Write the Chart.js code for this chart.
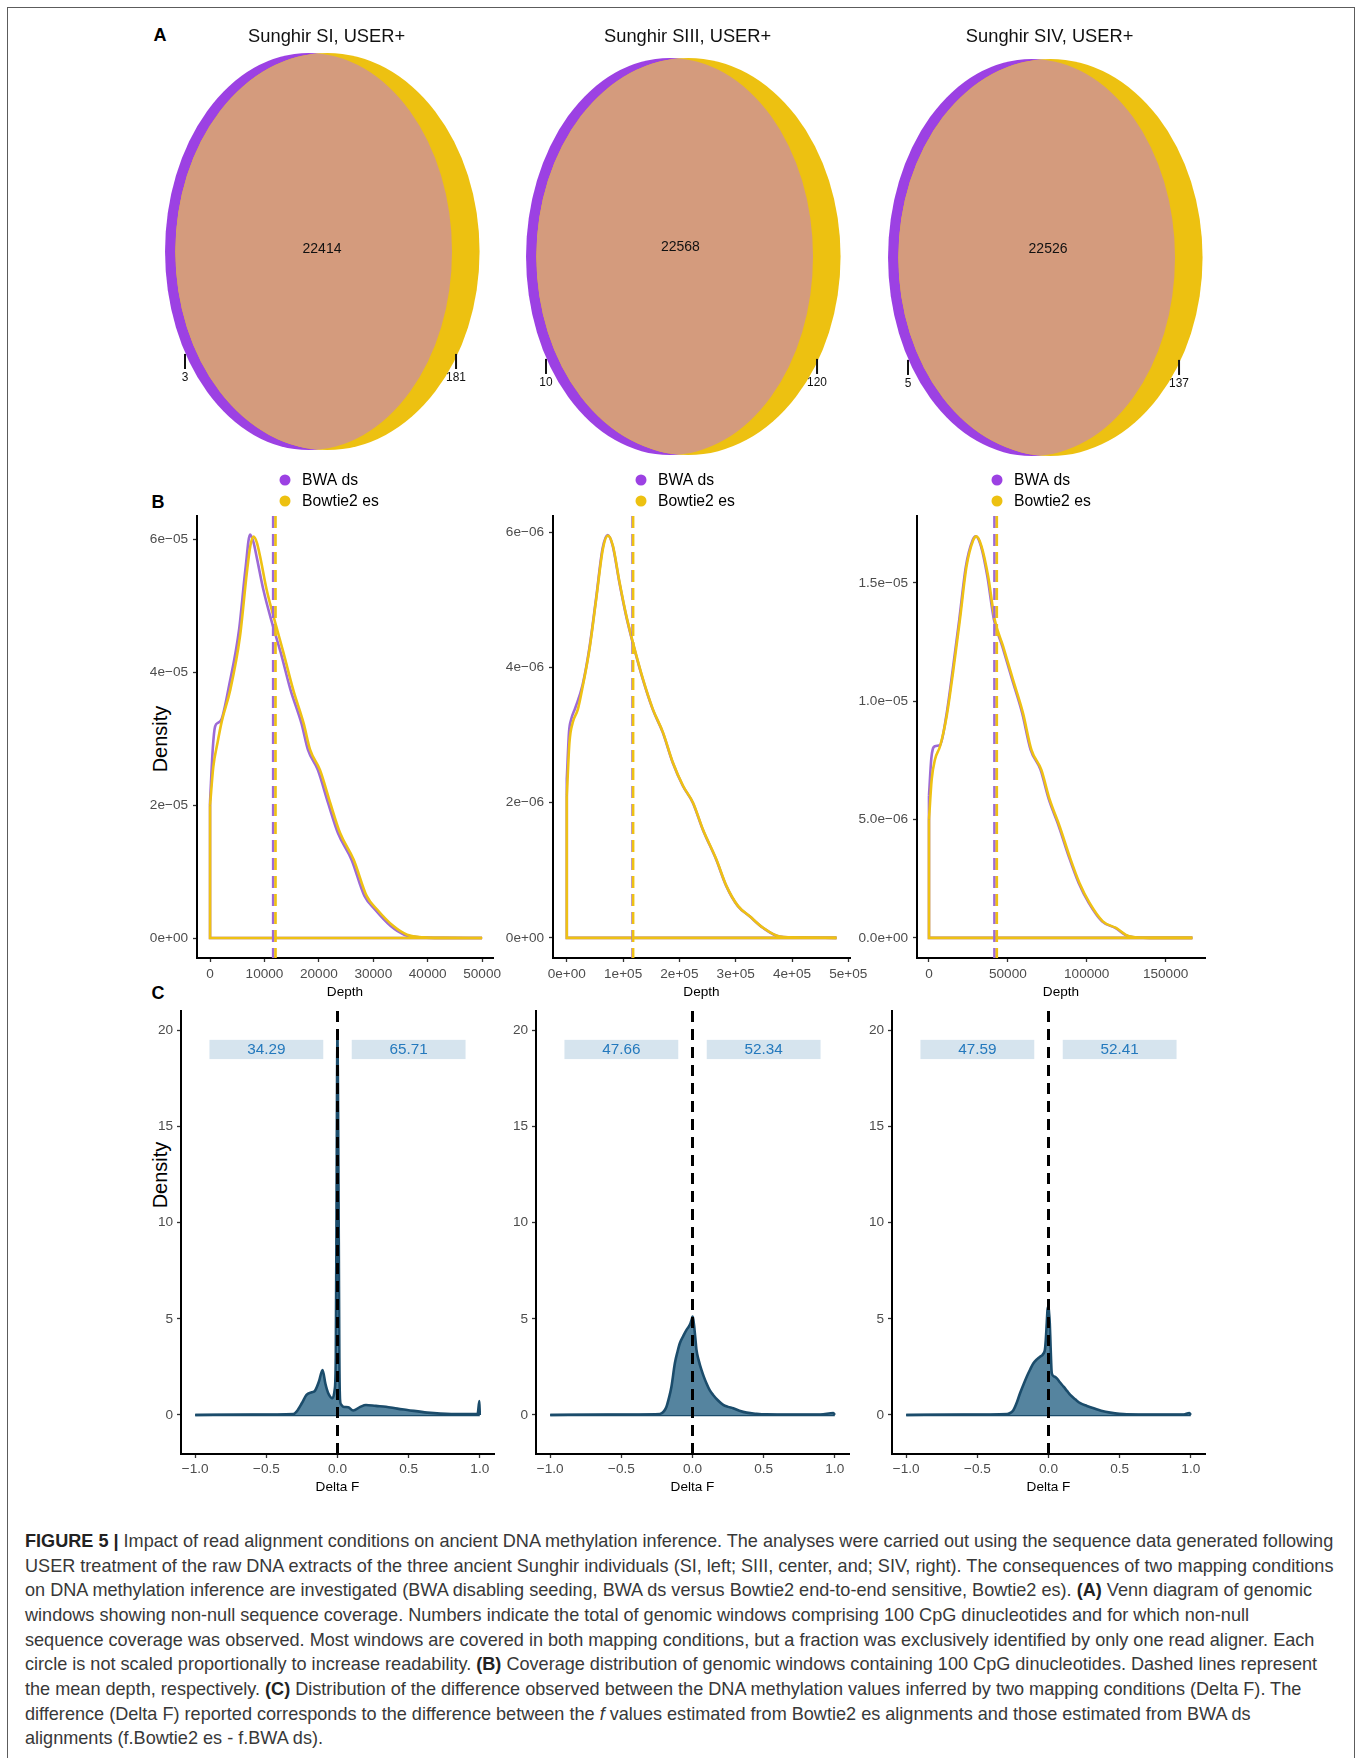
<!DOCTYPE html>
<html>
<head>
<meta charset="utf-8">
<script src="https://cdn.jsdelivr.net/npm/chart.js@4.4.1/dist/chart.umd.min.js"></script>
<style>
  html, body { margin: 0; padding: 0; background: #fff; }
  #page { position: relative; width: 1360px; height: 1758px; overflow: hidden; background: #fff; }
  #frame { position: absolute; left: 7px; top: 7px; width: 1346px; height: 1800px;
           border: 1.5px solid #5c5c5c; border-bottom: none; }
  canvas { position: absolute; }
  .tag { position: absolute; font: bold 18px "Liberation Sans", Arial, sans-serif; color: #000;
         transform: translate(-50%, -50%); }
  .ytitle { position: absolute; font: 20px "Liberation Sans", Arial, sans-serif; color: #000;
            transform: translate(-50%, -50%) rotate(-90deg); white-space: nowrap; }
  #caption { position: absolute; left: 25px; top: 1529px; font: 18.1px/24.66px "Liberation Sans", Arial, sans-serif;
             color: #383838; white-space: nowrap; }
  #caption b { color: #222; }
</style>
</head>
<body>
<div id="page">
  <div id="frame"></div>
  <div class="tag" style="left:160px;top:35px">A</div>
  <div class="tag" style="left:158px;top:502px">B</div>
  <div class="tag" style="left:158px;top:993px">C</div>
  <div class="ytitle" style="left:160px;top:739px">Density</div>
  <div class="ytitle" style="left:160px;top:1175px">Density</div>
  <div id="caption">
    <b>FIGURE 5 |</b> Impact of read alignment conditions on ancient DNA methylation inference. The analyses were carried out using the sequence data generated following<br>
    USER treatment of the raw DNA extracts of the three ancient Sunghir individuals (SI, left; SIII, center, and; SIV, right). The consequences of two mapping conditions<br>
    on DNA methylation inference are investigated (BWA disabling seeding, BWA ds versus Bowtie2 end-to-end sensitive, Bowtie2 es). <b>(A)</b> Venn diagram of genomic<br>
    windows showing non-null sequence coverage. Numbers indicate the total of genomic windows comprising 100 CpG dinucleotides and for which non-null<br>
    sequence coverage was observed. Most windows are covered in both mapping conditions, but a fraction was exclusively identified by only one read aligner. Each<br>
    circle is not scaled proportionally to increase readability. <b>(B)</b> Coverage distribution of genomic windows containing 100 CpG dinucleotides. Dashed lines represent<br>
    the mean depth, respectively. <b>(C)</b> Distribution of the difference observed between the DNA methylation values inferred by two mapping conditions (Delta F). The<br>
    difference (Delta F) reported corresponds to the difference between the <i>f</i> values estimated from Bowtie2 es alignments and those estimated from BWA ds<br>
    alignments (f.Bowtie2 es - f.BWA ds).
  </div>
</div>
<script>
// ---------------- data ----------------
const SAMPLES = ['Sunghir SI, USER+', 'Sunghir SIII, USER+', 'Sunghir SIV, USER+'];
const ALIGNERS = ['BWA ds', 'Bowtie2 es'];

// (A) windows with non-null coverage
const ONLY_BWA = [3, 10, 5];
const ONLY_BOWTIE = [181, 120, 137];
const SHARED = [22414, 22568, 22526];

// (B) depth density curves
const SI_BWA_DEPTH = [0, 500, 920, 1500, 2150, 3500, 5300, 6500, 7350, 8000, 8600, 9800, 11400, 13000, 14800, 16800, 18000, 19800, 21700, 23500, 26000, 28400, 30300, 33200, 35700, 39000, 43000, 50000];
const SI_BWA_DENSITY = [2.05e-5, 2.85e-5, 3.18e-5, 3.24e-5, 3.30e-5, 3.80e-5, 4.62e-5, 5.55e-5, 6.07e-5, 5.95e-5, 5.72e-5, 5.24e-5, 4.74e-5, 4.29e-5, 3.73e-5, 3.23e-5, 2.83e-5, 2.53e-5, 2.03e-5, 1.58e-5, 1.18e-5, 0.63e-5, 0.43e-5, 0.18e-5, 0.05e-5, 0.01e-5, 0.003e-5, 0];
const SI_BOWTIE_DEPTH = [0, 600, 1350, 2150, 3700, 5500, 6750, 7400, 8000, 8600, 9200, 10400, 12000, 13500, 15300, 17200, 18400, 20200, 22100, 23900, 26400, 28800, 30700, 33700, 36200, 39300, 43000, 50000];
const SI_BOWTIE_DENSITY = [2.00e-5, 2.58e-5, 2.93e-5, 3.26e-5, 3.73e-5, 4.54e-5, 5.49e-5, 5.90e-5, 6.04e-5, 5.95e-5, 5.74e-5, 5.24e-5, 4.74e-5, 4.29e-5, 3.73e-5, 3.23e-5, 2.83e-5, 2.53e-5, 2.03e-5, 1.58e-5, 1.18e-5, 0.63e-5, 0.43e-5, 0.18e-5, 0.05e-5, 0.01e-5, 0.003e-5, 0];

const SIII_BWA_DEPTH = [0, 4000, 7700, 15000, 28000, 40000, 52000, 63500, 72500, 81500, 93300, 105200, 117000, 134800, 152600, 170400, 188200, 206000, 223800, 241600, 265300, 283100, 303900, 324600, 348300, 378000, 420000, 479000];
const SIII_BWA_DENSITY = [2.35e-6, 3.05e-6, 3.23e-6, 3.40e-6, 3.74e-6, 4.28e-6, 5.02e-6, 5.76e-6, 5.96e-6, 5.80e-6, 5.26e-6, 4.77e-6, 4.37e-6, 3.83e-6, 3.38e-6, 3.04e-6, 2.59e-6, 2.25e-6, 2.00e-6, 1.60e-6, 1.16e-6, 0.77e-6, 0.47e-6, 0.32e-6, 0.15e-6, 0.02e-6, 0.005e-6, 0];
const SIII_BOWTIE_DEPTH = [0, 4700, 10700, 19600, 28500, 40300, 52200, 64000, 73000, 81900, 93700, 105600, 117400, 135200, 153000, 170800, 188600, 206400, 224200, 242000, 265700, 283500, 304300, 325000, 348700, 378400, 420000, 479000];
const SIII_BOWTIE_DENSITY = [2.10e-6, 2.89e-6, 3.19e-6, 3.38e-6, 3.73e-6, 4.27e-6, 5.01e-6, 5.75e-6, 5.95e-6, 5.80e-6, 5.26e-6, 4.77e-6, 4.37e-6, 3.83e-6, 3.38e-6, 3.04e-6, 2.59e-6, 2.25e-6, 2.00e-6, 1.60e-6, 1.16e-6, 0.77e-6, 0.47e-6, 0.32e-6, 0.15e-6, 0.02e-6, 0.005e-6, 0];

const SIV_BWA_DEPTH = [0, 1500, 3800, 7000, 11000, 15000, 19200, 23400, 27600, 29700, 33000, 37000, 41200, 46500, 52800, 59100, 64400, 70700, 76000, 82300, 88600, 94900, 101300, 109700, 118100, 126500, 139700, 167000];
const SIV_BWA_DENSITY = [6.0e-6, 7.6e-6, 8.10e-6, 8.15e-6, 9.40e-6, 11.3e-6, 13.45e-6, 15.7e-6, 16.8e-6, 16.97e-6, 16.55e-6, 15.28e-6, 13.45e-6, 12.32e-6, 10.9e-6, 9.5e-6, 7.96e-6, 7.11e-6, 5.85e-6, 4.72e-6, 3.45e-6, 2.32e-6, 1.48e-6, 0.70e-6, 0.42e-6, 0.07e-6, 0, 0];
const SIV_BOWTIE_DEPTH = [0, 1700, 3800, 7000, 11200, 15400, 19600, 23800, 28000, 30100, 33300, 37500, 41700, 47000, 53300, 59600, 64900, 71200, 76500, 82800, 89100, 95400, 101800, 110200, 118600, 127000, 139700, 167000];
const SIV_BOWTIE_DENSITY = [5.0e-6, 6.69e-6, 7.54e-6, 8.10e-6, 9.37e-6, 11.3e-6, 13.45e-6, 15.7e-6, 16.8e-6, 16.97e-6, 16.55e-6, 15.28e-6, 13.45e-6, 12.32e-6, 10.9e-6, 9.5e-6, 7.96e-6, 7.11e-6, 5.85e-6, 4.72e-6, 3.45e-6, 2.32e-6, 1.48e-6, 0.70e-6, 0.42e-6, 0.07e-6, 0, 0];

const MEAN_DEPTH_BWA = [11600, 116800, 41500];
const MEAN_DEPTH_BOWTIE = [12030, 117800, 43000];

const DEPTH_X_TICKS = [[0, 10000, 20000, 30000, 40000, 50000], [0, 1e5, 2e5, 3e5, 4e5, 5e5], [0, 50000, 100000, 150000]];
const DEPTH_X_LABELS = [['0', '10000', '20000', '30000', '40000', '50000'], ['0e+00', '1e+05', '2e+05', '3e+05', '4e+05', '5e+05'], ['0', '50000', '100000', '150000']];
const DEPTH_Y_TICKS = [[0, 2e-5, 4e-5, 6e-5], [0, 2e-6, 4e-6, 6e-6], [0, 5e-6, 1e-5, 1.5e-5]];
const DEPTH_Y_LABELS = [['0e+00', '2e\u221205', '4e\u221205', '6e\u221205'], ['0e+00', '2e\u221206', '4e\u221206', '6e\u221206'], ['0.0e+00', '5.0e\u221206', '1.0e\u221205', '1.5e\u221205']];

// (C) Delta F density curves
const DELTA_F_SI = [-1.0, -0.6, -0.31, -0.288, -0.25, -0.218, -0.18, -0.159, -0.13, -0.105, -0.085, -0.065, -0.035, -0.02, -0.012, -0.007, -0.003, 0.0, 0.004, 0.009, 0.013, 0.018, 0.025, 0.04, 0.075, 0.11, 0.16, 0.20, 0.27, 0.34, 0.42, 0.49, 0.63, 0.8, 0.985, 0.997, 1.0];
const DELTA_DENSITY_SI = [0.0, 0.02, 0.05, 0.17, 0.62, 1.04, 1.18, 1.25, 1.75, 2.34, 1.62, 1.13, 0.87, 1.3, 3.0, 10.5, 17.5, 19.9, 16.0, 9.0, 3.0, 0.78, 0.55, 0.43, 0.40, 0.23, 0.42, 0.52, 0.47, 0.43, 0.33, 0.26, 0.12, 0.05, 0.05, 0.72, 0.0];
const DELTA_F_SIII = [-1.0, -0.6, -0.23, -0.2, -0.183, -0.165, -0.148, -0.124, -0.105, -0.089, -0.065, -0.042, -0.025, -0.014, -0.006, 0.0, 0.006, 0.012, 0.02, 0.028, 0.045, 0.063, 0.08, 0.098, 0.12, 0.145, 0.18, 0.216, 0.25, 0.286, 0.33, 0.38, 0.45, 0.52, 0.7, 0.9, 0.99, 1.0];
const DELTA_DENSITY_SIII = [0, 0.02, 0.05, 0.2, 0.43, 0.9, 1.47, 2.69, 3.3, 3.73, 4.1, 4.42, 4.6, 4.77, 4.95, 5.11, 4.95, 4.59, 4.0, 3.38, 2.8, 2.34, 1.98, 1.65, 1.3, 1.04, 0.75, 0.52, 0.42, 0.35, 0.22, 0.12, 0.06, 0.03, 0.02, 0.02, 0.1, 0];
const DELTA_F_SIV = [-1.0, -0.6, -0.29, -0.265, -0.246, -0.22, -0.2, -0.175, -0.153, -0.13, -0.106, -0.08, -0.059, -0.045, -0.035, -0.025, -0.019, -0.012, -0.007, -0.003, 0.0, 0.004, 0.009, 0.015, 0.023, 0.04, 0.059, 0.08, 0.106, 0.13, 0.153, 0.19, 0.223, 0.27, 0.317, 0.37, 0.434, 0.55, 0.75, 0.95, 0.99, 1.0];
const DELTA_DENSITY_SIV = [0, 0.02, 0.05, 0.12, 0.26, 0.7, 1.13, 1.6, 1.99, 2.35, 2.69, 2.9, 3.03, 3.1, 3.2, 3.4, 3.9, 4.8, 5.46, 5.6, 5.63, 5.3, 4.77, 3.5, 2.17, 2.0, 1.9, 1.7, 1.47, 1.25, 1.04, 0.8, 0.61, 0.47, 0.35, 0.22, 0.12, 0.03, 0.02, 0.02, 0.1, 0];

const PCT_NEGATIVE = [34.29, 47.66, 47.59];
const PCT_POSITIVE = [65.71, 52.34, 52.41];

const DELTA_X_TICKS = [-1, -0.5, 0, 0.5, 1];
const DELTA_X_LABELS = ['\u22121.0', '\u22120.5', '0.0', '0.5', '1.0'];
const DELTA_Y_TICKS = [0, 5, 10, 15, 20];
const DELTA_Y_LABELS = ['0', '5', '10', '15', '20'];

// ---------------- styling / layout ----------------
function fontAvailable(name) {
  const ctx = document.createElement('canvas').getContext('2d');
  const probe = 'mmmmmmmmmmlli1WQ0123';
  ctx.font = '40px monospace';
  const base = ctx.measureText(probe).width;
  ctx.font = `40px "${name}", monospace`;
  return ctx.measureText(probe).width !== base;
}
const NARROW = fontAvailable('Liberation Sans Narrow');
const FAMILY = NARROW ? '"Liberation Sans Narrow", "Liberation Sans", sans-serif' : '"Liberation Sans", Arial, sans-serif';
const fs = s => NARROW ? s : Math.round(s * 0.85 * 10) / 10;

const COLORS = {
  bwa: '#9C41E3', bowtie: '#EDC111', shared: '#D49B7D',
  bwaLine: '#9D6AD6', bowtieLine: '#EEC113',
  deltaLine: '#1B4C6B', deltaFill: '#55849F',
  boxFill: '#D6E4EE', boxText: '#2479BD',
  tick: '#4d4d4d'
};

Chart.defaults.font.family = FAMILY;
Chart.defaults.color = COLORS.tick;

const page = document.getElementById('page');
function addCanvas(left, top, width, height) {
  const c = document.createElement('canvas');
  c.width = width; c.height = height;
  c.style.left = left + 'px'; c.style.top = top + 'px';
  c.style.width = width + 'px'; c.style.height = height + 'px';
  page.appendChild(c);
  return c;
}

const BASE_OPTIONS = { responsive: false, animation: false, devicePixelRatio: 1, events: [] };

function axis({ min, max, ticks, labels, size, horizontal, title, pad }) {
  return {
    type: 'linear', min, max,
    afterBuildTicks: s => { s.ticks = ticks.map(v => ({ value: v })); },
    afterFit: s => { if (horizontal) s.height = size; else s.width = size; },
    ticks: {
      autoSkip: false, maxRotation: 0, minRotation: 0, padding: pad,
      color: COLORS.tick, font: { size: fs(16) },
      callback: (v, i) => labels[i]
    },
    grid: { display: true, drawOnChartArea: false, drawTicks: true, tickLength: 4, tickColor: '#333', tickWidth: 1.3 },
    border: { display: true, color: '#000', width: 2 },
    title: title ? { display: true, text: title, color: '#000', font: { size: fs(16) }, padding: { top: 0, bottom: 4.4 } } : { display: false }
  };
}

// dashed vertical reference lines, positioned on the x scale
const vlinePlugin = {
  id: 'vlines',
  afterDatasetsDraw(chart, args, opts) {
    const { ctx, chartArea: a, scales: { x } } = chart;
    ctx.save();
    for (const l of opts.lines || []) {
      const px = x.getPixelForValue(l.value);
      ctx.beginPath();
      ctx.setLineDash(l.dash);
      ctx.lineWidth = l.width;
      ctx.strokeStyle = l.color;
      ctx.moveTo(px, a.top);
      ctx.lineTo(px, a.bottom);
      ctx.stroke();
    }
    ctx.restore();
  }
};

// two-row key placed above the panel
const keyPlugin = {
  id: 'key',
  afterDraw(chart, args, opts) {
    const { ctx } = chart;
    ctx.save();
    ctx.font = `${fs(18.5)}px ${FAMILY}`;
    ctx.textBaseline = 'middle';
    ctx.textAlign = 'left';
    opts.items.forEach((it, k) => {
      const y = opts.y + k * opts.rowGap;
      ctx.beginPath();
      ctx.fillStyle = it.color;
      ctx.arc(opts.x, y, 5.5, 0, Math.PI * 2);
      ctx.fill();
      ctx.fillStyle = '#000';
      ctx.fillText(it.label, opts.x + 17, y + 0.5);
    });
    ctx.restore();
  }
};

// shaded share boxes with percentages (negative / positive Delta F)
const shareBoxPlugin = {
  id: 'shareBoxes',
  afterDatasetsDraw(chart, args, opts) {
    const { ctx, scales: { x, y } } = chart;
    ctx.save();
    ctx.font = `${fs(18)}px ${FAMILY}`;
    ctx.textAlign = 'center';
    ctx.textBaseline = 'middle';
    for (const b of opts.boxes) {
      const x0 = x.getPixelForValue(b.from), x1 = x.getPixelForValue(b.to);
      const y0 = y.getPixelForValue(b.yTop), y1 = y.getPixelForValue(b.yBottom);
      ctx.fillStyle = COLORS.boxFill;
      ctx.fillRect(x0, y0, x1 - x0, y1 - y0);
      ctx.fillStyle = COLORS.boxText;
      ctx.fillText(b.text, (x0 + x1) / 2, y.getPixelForValue((b.yTop + b.yBottom) / 2) + 0.5);
    }
    ctx.restore();
  }
};

// two-set Venn drawn in the chart's own coordinate system
const vennPlugin = {
  id: 'venn',
  afterDraw(chart, args, o) {
    const { ctx, scales: { x, y } } = chart;
    const px = v => x.getPixelForValue(v), py = v => y.getPixelForValue(v);
    const path = e => {
      ctx.beginPath();
      ctx.ellipse(px(e.cx), py(o.cy), Math.abs(px(e.cx + e.rx) - px(e.cx)), Math.abs(py(o.cy + e.ry) - py(o.cy)), 0, 0, Math.PI * 2);
    };
    ctx.save();
    path(o.left); ctx.fillStyle = COLORS.bwa; ctx.fill();
    path(o.right); ctx.fillStyle = COLORS.bowtie; ctx.fill();
    ctx.save();
    path(o.left); ctx.clip();
    path(o.right); ctx.fillStyle = COLORS.shared; ctx.fill();
    ctx.restore();

    ctx.fillStyle = '#111';
    ctx.textAlign = 'center';
    ctx.textBaseline = 'middle';
    ctx.font = `${fs(21.5)}px ${FAMILY}`;
    ctx.fillText(o.title, px(o.titleX), o.titleY);
    ctx.font = `${fs(16.5)}px ${FAMILY}`;
    ctx.fillText(String(o.shared), px(o.sharedAt[0]), py(o.cy + o.sharedAt[1]));

    ctx.font = `${fs(14)}px ${FAMILY}`;
    ctx.strokeStyle = '#111';
    ctx.lineWidth = 2;
    for (const s of o.sides) {
      const sx = px(s.x);
      ctx.beginPath();
      ctx.moveTo(sx, py(o.cy + o.tickFrom));
      ctx.lineTo(sx, py(o.cy + o.tickTo));
      ctx.stroke();
      ctx.fillText(String(s.value), sx, py(o.cy + o.labelAt));
    }
    ctx.restore();
  }
};

// ---------------- (A) Venn diagrams ----------------
const VENN_CENTERS = [318, 678.5, 1041];
const VENN_SHIFT = [0, -0.025, -0.030];
const SHARED_LABEL_POS = [[0.028, 0.013], [0.010, 0.048], [0.049, 0.043]];
VENN_CENTERS.forEach((c, i) => {
  const canvas = addCanvas(c - 180, 10, 360, 460);
  new Chart(canvas, {
    type: 'scatter',
    data: { datasets: [] },
    options: {
      ...BASE_OPTIONS,
      layout: { padding: 0 },
      plugins: {
        legend: { display: false }, tooltip: { enabled: false },
        venn: {
          title: SAMPLES[i], titleX: 0.06, titleY: 27,
          cy: VENN_SHIFT[i],
          left: { cx: -0.066, rx: 1.0, ry: 1.0 },
          right: { cx: 0.066, rx: 1.06, ry: 1.0 },
          shared: SHARED[i], sharedAt: SHARED_LABEL_POS[i],
          tickFrom: -0.516, tickTo: -0.592, labelAt: -0.637,
          sides: [{ x: -0.927, value: ONLY_BWA[i] }, { x: 0.962, value: ONLY_BOWTIE[i] }]
        }
      },
      scales: {
        x: { type: 'linear', min: -1.2544, max: 1.2544, display: false },
        y: { type: 'linear', min: -1.1008, max: 1.2166, display: false }
      }
    },
    plugins: [vennPlugin]
  });
});

// ---------------- (B) depth distributions ----------------
const DEPTH_SERIES = [
  { bwa: [SI_BWA_DEPTH, SI_BWA_DENSITY], bowtie: [SI_BOWTIE_DEPTH, SI_BOWTIE_DENSITY] },
  { bwa: [SIII_BWA_DEPTH, SIII_BWA_DENSITY], bowtie: [SIII_BOWTIE_DEPTH, SIII_BOWTIE_DENSITY] },
  { bwa: [SIV_BWA_DEPTH, SIV_BWA_DENSITY], bowtie: [SIV_BOWTIE_DEPTH, SIV_BOWTIE_DENSITY] }
];
const DEPTH_LAYOUT = [
  { left: 130, axisW: 67, padR: 27, xMin: -2400, xMax: 52000, yMin: -3.0e-6, yMax: 6.35e-5, keyX: 285 },
  { left: 490, axisW: 63, padR: 30, xMin: -24500, xMax: 503000, yMin: -2.97e-7, yMax: 6.24e-6, keyX: 641 },
  { left: 850, axisW: 67, padR: 35, xMin: -7600, xMax: 175000, yMin: -0.85e-6, yMax: 17.83e-6, keyX: 997 }
];
const DEPTH_TOP = 462, DEPTH_AREA_TOP = 516, DEPTH_AREA_BOTTOM = 958, DEPTH_BOTTOM = 1005;

function curveSet(xs, ys, color) {
  return {
    data: xs.map((v, k) => ({ x: v, y: ys[k] })), showLine: true,
    borderColor: color, borderWidth: 2.6, pointRadius: 0,
    cubicInterpolationMode: 'monotone', fill: false, borderJoinStyle: 'round'
  };
}
function outlineSet(xs, ys, color) {
  return {
    data: [{ x: xs[xs.length - 1], y: 0 }, { x: xs[0], y: 0 }, { x: xs[0], y: ys[0] }], showLine: true,
    borderColor: color, borderWidth: 2.6, pointRadius: 0, tension: 0, fill: false
  };
}

DEPTH_LAYOUT.forEach((L, i) => {
  const s = DEPTH_SERIES[i];
  const width = 390;
  const canvas = addCanvas(L.left, DEPTH_TOP, width, DEPTH_BOTTOM - DEPTH_TOP);
  new Chart(canvas, {
    type: 'scatter',
    data: {
      datasets: [
        { label: ALIGNERS[1], ...curveSet(s.bowtie[0], s.bowtie[1], COLORS.bowtieLine) },
        { label: '', ...outlineSet(s.bowtie[0], s.bowtie[1], COLORS.bowtieLine) },
        { label: ALIGNERS[0], ...curveSet(s.bwa[0], s.bwa[1], COLORS.bwaLine) },
        { label: '', ...outlineSet(s.bwa[0], s.bwa[1], COLORS.bwaLine) }
      ]
    },
    options: {
      ...BASE_OPTIONS,
      layout: { padding: { left: 0, top: DEPTH_AREA_TOP - DEPTH_TOP, right: L.padR, bottom: 0 } },
      plugins: {
        legend: { display: false }, tooltip: { enabled: false },
        vlines: {
          lines: [
            { value: MEAN_DEPTH_BWA[i], color: COLORS.bwaLine, width: 2.6, dash: [12, 6] },
            { value: MEAN_DEPTH_BOWTIE[i], color: COLORS.bowtieLine, width: 2.6, dash: [12, 6] }
          ]
        },
        key: {
          x: L.keyX - L.left, y: 480 - DEPTH_TOP, rowGap: 21,
          items: [{ label: ALIGNERS[0], color: COLORS.bwa }, { label: ALIGNERS[1], color: COLORS.bowtie }]
        }
      },
      scales: {
        x: axis({ min: L.xMin, max: L.xMax, ticks: DEPTH_X_TICKS[i], labels: DEPTH_X_LABELS[i],
                  size: DEPTH_BOTTOM - DEPTH_AREA_BOTTOM, horizontal: true, title: 'Depth', pad: 4 }),
        y: axis({ min: L.yMin, max: L.yMax, ticks: DEPTH_Y_TICKS[i], labels: DEPTH_Y_LABELS[i],
                  size: L.axisW, horizontal: false, pad: 5 })
      }
    },
    plugins: [vlinePlugin, keyPlugin]
  });
});

// ---------------- (C) Delta F distributions ----------------
const DELTA_SERIES = [
  [DELTA_F_SI, DELTA_DENSITY_SI],
  [DELTA_F_SIII, DELTA_DENSITY_SIII],
  [DELTA_F_SIV, DELTA_DENSITY_SIV]
];
const DELTA_LAYOUT = [
  { left: 130, axisW: 51, padR: 26 },
  { left: 490, axisW: 46, padR: 31 },
  { left: 850, axisW: 42, padR: 35 }
];
const DELTA_TOP = 995, DELTA_AREA_TOP = 1011, DELTA_AREA_BOTTOM = 1454, DELTA_BOTTOM = 1500;
const SHARE_BOX = { inner: 0.1, outer: 0.9, yTop: 19.5, yBottom: 18.5 };

DELTA_LAYOUT.forEach((L, i) => {
  const [xs, ys] = DELTA_SERIES[i];
  const canvas = addCanvas(L.left, DELTA_TOP, 390, DELTA_BOTTOM - DELTA_TOP);
  new Chart(canvas, {
    type: 'scatter',
    data: {
      datasets: [
        {
          data: xs.map((v, k) => ({ x: v, y: ys[k] })), showLine: true,
          borderColor: COLORS.deltaLine, borderWidth: 2.6, pointRadius: 0,
          cubicInterpolationMode: 'monotone', fill: 'origin', backgroundColor: COLORS.deltaFill,
          borderJoinStyle: 'round'
        },
        {
          data: [{ x: xs[0], y: 0 }, { x: xs[xs.length - 1], y: 0 }], showLine: true,
          borderColor: COLORS.deltaLine, borderWidth: 2.6, pointRadius: 0, fill: false
        }
      ]
    },
    options: {
      ...BASE_OPTIONS,
      layout: { padding: { left: 0, top: DELTA_AREA_TOP - DELTA_TOP, right: L.padR, bottom: 0 } },
      plugins: {
        legend: { display: false }, tooltip: { enabled: false },
        vlines: { lines: [{ value: 0, color: '#000', width: 3, dash: [11, 7] }] },
        shareBoxes: {
          boxes: [
            { from: -SHARE_BOX.outer, to: -SHARE_BOX.inner, yTop: SHARE_BOX.yTop, yBottom: SHARE_BOX.yBottom, text: PCT_NEGATIVE[i].toFixed(2) },
            { from: SHARE_BOX.inner, to: SHARE_BOX.outer, yTop: SHARE_BOX.yTop, yBottom: SHARE_BOX.yBottom, text: PCT_POSITIVE[i].toFixed(2) }
          ]
        }
      },
      scales: {
        x: axis({ min: -1.1, max: 1.1, ticks: DELTA_X_TICKS, labels: DELTA_X_LABELS,
                  size: DELTA_BOTTOM - DELTA_AREA_BOTTOM, horizontal: true, title: 'Delta F', pad: 3 }),
        y: axis({ min: -2.03, max: 21.0, ticks: DELTA_Y_TICKS, labels: DELTA_Y_LABELS,
                  size: L.axisW, horizontal: false, pad: 4 })
      }
    },
    plugins: [vlinePlugin, shareBoxPlugin]
  });
});
</script>
</body>
</html>
